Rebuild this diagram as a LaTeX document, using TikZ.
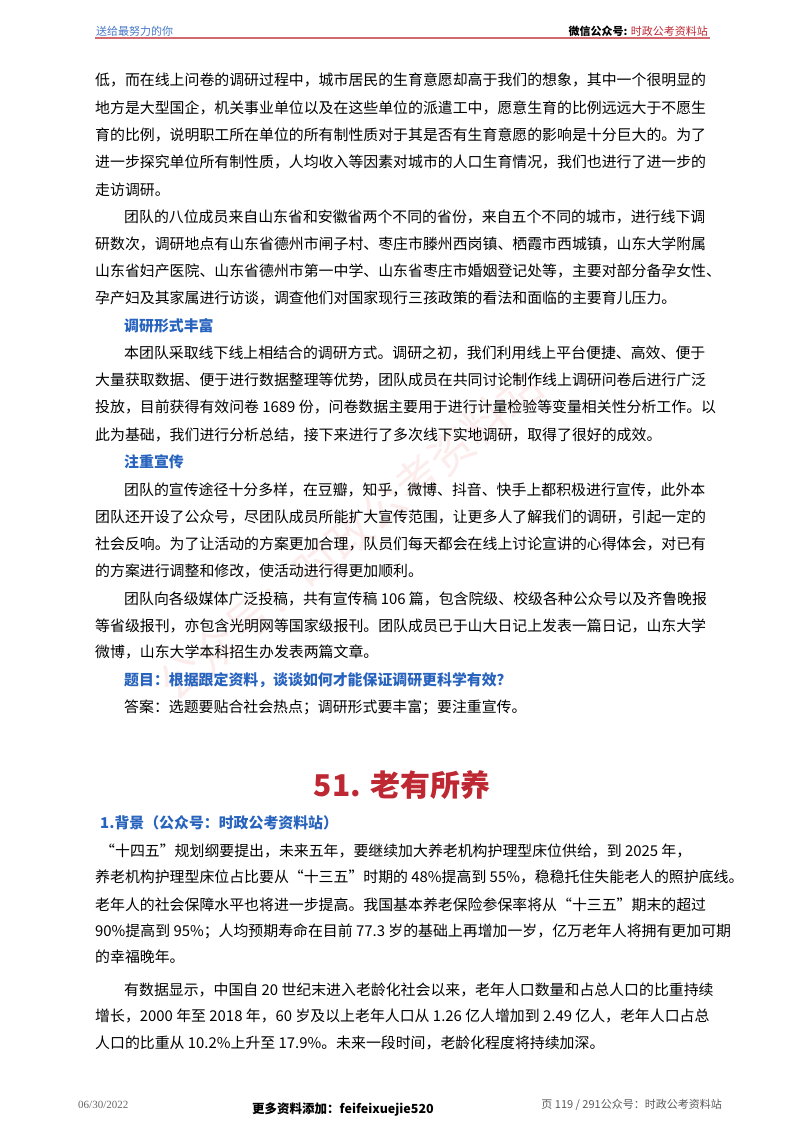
\documentclass[tikz,border=0pt]{standalone}
\usepackage{fontspec}
\setmainfont{Noto Sans CJK SC}
\newfontfamily\serifl{Liberation Serif}
\definecolor{hblue}{RGB}{70,120,200}
\definecolor{hred}{RGB}{190,40,50}
\definecolor{tblue}{RGB}{40,100,190}
\definecolor{wm}{RGB}{252,236,236}
\begin{document}
\begin{tikzpicture}[x=1pt,y=-1pt,
 ln/.style={anchor=west,inner sep=0pt,font=\fontsize{14.9}{16}\selectfont},
 hd/.style={ln,text=tblue,font=\fontsize{14.9}{16}\selectfont\bfseries}]
\useasboundingbox (0,0) rectangle (800,1132);
\fill[white] (0,0) rectangle (800,1132);
\node[rotate=40,text=wm,font=\fontsize{44}{48}\selectfont] (wmk) at (350,535) {公众号：时政公考资料站};
\node[anchor=west,inner sep=0pt,text=hblue,font=\fontsize{11}{12}\selectfont] (h1) at (96,31) {送给最努力的你};
\node[anchor=east,inner sep=0pt,font=\fontsize{11}{12}\selectfont] (h2) at (708,31) {\textbf{微信公众号:} \textcolor{hred}{时政公考资料站}};
\draw[hred!70,line width=1.2pt] (95,38) -- (710,38);
\node[ln] (l1) at (95,80) {低，而在线上问卷的调研过程中，城市居民的生育意愿却高于我们的想象，其中一个很明显的};
\node[ln] (l2) at (95,108) {地方是大型国企，机关事业单位以及在这些单位的派遣工中，愿意生育的比例远远大于不愿生};
\node[ln] (l3) at (95,135) {育的比例，说明职工所在单位的所有制性质对于其是否有生育意愿的影响是十分巨大的。为了};
\node[ln] (l4) at (95,162) {进一步探究单位所有制性质，人均收入等因素对城市的人口生育情况，我们也进行了进一步的};
\node[ln] (l5) at (95,190) {走访调研。};
\node[ln] (l6) at (124,217) {团队的八位成员来自山东省和安徽省两个不同的省份，来自五个不同的城市，进行线下调};
\node[ln] (l7) at (95,244) {研数次，调研地点有山东省德州市闸子村、枣庄市滕州西岗镇、栖霞市西城镇，山东大学附属};
\node[ln] (l8) at (95,271) {山东省妇产医院、山东省德州市第一中学、山东省枣庄市婚姻登记处等，主要对部分备孕女性、};
\node[ln] (l9) at (95,298) {孕产妇及其家属进行访谈，调查他们对国家现行三孩政策的看法和面临的主要育儿压力。};
\node[hd] (s1) at (124,326) {调研形式丰富};
\node[ln] (l10) at (124,353) {本团队采取线下线上相结合的调研方式。调研之初，我们利用线上平台便捷、高效、便于};
\node[ln] (l11) at (95,380) {大量获取数据、便于进行数据整理等优势，团队成员在共同讨论制作线上调研问卷后进行广泛};
\node[ln] (l12) at (95,407) {投放，目前获得有效问卷 1689 份，问卷数据主要用于进行计量检验等变量相关性分析工作。以};
\node[ln] (l13) at (95,435) {此为基础，我们进行分析总结，接下来进行了多次线下实地调研，取得了很好的成效。};
\node[hd] (s2) at (124,462) {注重宣传};
\node[ln] (l14) at (124,490) {团队的宣传途径十分多样，在豆瓣，知乎，微博、抖音、快手上都积极进行宣传，此外本};
\node[ln] (l15) at (95,517) {团队还开设了公众号，尽团队成员所能扩大宣传范围，让更多人了解我们的调研，引起一定的};
\node[ln] (l16) at (95,544) {社会反响。为了让活动的方案更加合理，队员们每天都会在线上讨论宣讲的心得体会，对已有};
\node[ln] (l17) at (95,571) {的方案进行调整和修改，使活动进行得更加顺利。};
\node[ln] (l18) at (124,599) {团队向各级媒体广泛投稿，共有宣传稿 106 篇，包含院级、校级各种公众号以及齐鲁晚报};
\node[ln] (l19) at (95,626) {等省级报刊，亦包含光明网等国家级报刊。团队成员已于山大日记上发表一篇日记，山东大学};
\node[ln] (l20) at (95,652) {微博，山东大学本科招生办发表两篇文章。};
\node[hd] (s3) at (124,680) {题目：根据跟定资料，谈谈如何才能保证调研更科学有效？};
\node[ln] (l21) at (124,707) {答案：选题要贴合社会热点；调研形式要丰富；要注重宣传。};
\node[inner sep=0pt,text=hred,font=\fontsize{30}{34}\selectfont\bfseries] (t) at (402,785) {51. 老有所养};
\node[hd] (s4) at (100,823) {1.背景（公众号：时政公考资料站）};
\node[ln] (m1) at (100,851) {“十四五”规划纲要提出，未来五年，要继续加大养老机构护理型床位供给，到 2025 年，};
\node[ln] (m2) at (95,877) {养老机构护理型床位占比要从“十三五”时期的 48\%提高到 55\%，稳稳托住失能老人的照护底线。};
\node[ln] (m3) at (95,905) {老年人的社会保障水平也将进一步提高。我国基本养老保险参保率将从“十三五”期末的超过};
\node[ln] (m4) at (95,931) {90\%提高到 95\%；人均预期寿命在目前 77.3 岁的基础上再增加一岁，亿万老年人将拥有更加可期};
\node[ln] (m5) at (95,957) {的幸福晚年。};
\node[ln] (m6) at (124,990) {有数据显示，中国自 20 世纪末进入老龄化社会以来，老年人口数量和占总人口的比重持续};
\node[ln] (m7) at (95,1016) {增长，2000 年至 2018 年，60 岁及以上老年人口从 1.26 亿人增加到 2.49 亿人，老年人口占总};
\node[ln] (m8) at (95,1043) {人口的比重从 10.2\%上升至 17.9\%。未来一段时间，老龄化程度将持续加深。};
\node[anchor=west,inner sep=0pt,text=black!60,font=\serifl\fontsize{11}{12}\selectfont] (f1) at (78,1105) {06/30/2022};
\node[inner sep=0pt,font=\fontsize{12.5}{14}\selectfont\bfseries] (f2) at (343,1109) {更多资料添加：feifeixuejie520};
\node[anchor=east,inner sep=0pt,text=black!65,font=\fontsize{11}{12}\selectfont] (f3) at (722,1105) {页 119 / 291公众号：时政公考资料站};
\end{tikzpicture}
\end{document}
